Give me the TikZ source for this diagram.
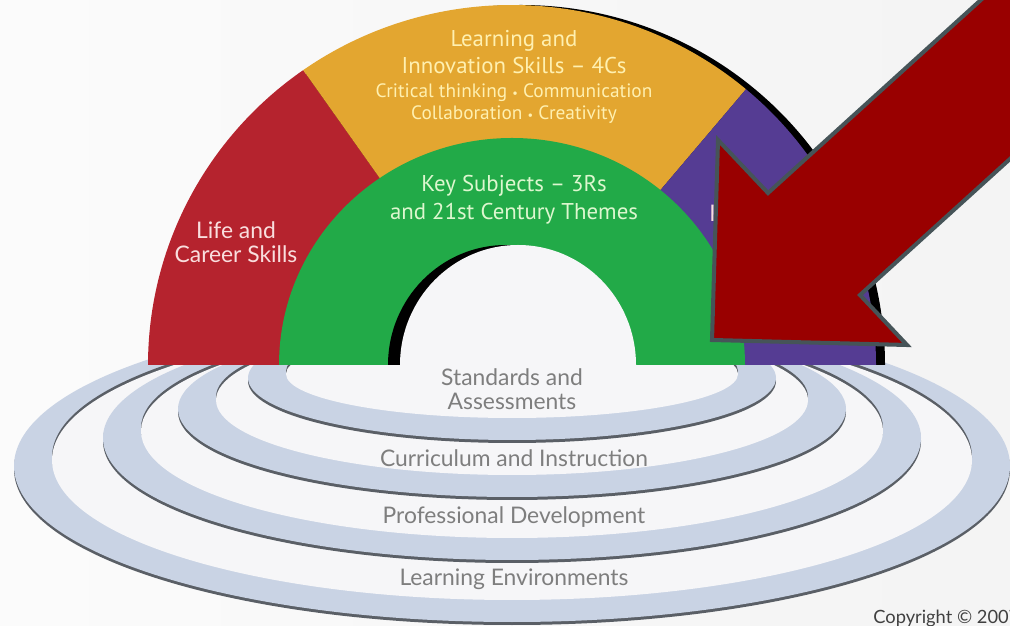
\documentclass[tikz,border=0pt]{standalone}
\usepackage{fontspec}
\setmainfont{PT Sans}
\newfontfamily\ringfont{Lato}
\usepackage{tikz}
\usetikzlibrary{calc}
\definecolor{lifered}{HTML}{B5232E}
\definecolor{learnorange}{HTML}{E3A630}
\definecolor{keygreen}{HTML}{22AA48}
\definecolor{techpurple}{HTML}{553C93}
\definecolor{ringblue}{HTML}{C9D3E4}
\definecolor{ringedge}{HTML}{5A5F66}
\definecolor{ringwhite}{HTML}{F6F6F8}
\definecolor{arrowred}{HTML}{990000}
\definecolor{arrowedge}{HTML}{465458}
\definecolor{txtorange}{HTML}{FFF0B0}
\definecolor{txtgreen}{HTML}{DDF7CF}
\definecolor{txtred}{HTML}{F9DEDE}
\definecolor{txtring}{HTML}{7E7E7E}
\tikzstyle{band}      = [fill=ringblue]
\tikzstyle{edge}      = [fill=ringedge]
\tikzstyle{inside}    = [fill=ringwhite]
\tikzstyle{archlabel} = [align=center, inner sep=0pt]
\tikzstyle{ringlabel} = [align=center, inner sep=0pt, text=txtring, font=\ringfont\fontsize{13}{13.6}\selectfont]
\tikzstyle{bigarrow}  = [fill=arrowred, draw=arrowedge, line width=2.3pt, line join=miter]

\begin{document}
\begin{tikzpicture}[x=0.02cm, y=0.02cm]
        \useasboundingbox (0,0) rectangle (1010,625);
        \clip (0,0) rectangle (1010,625);
        \shade[left color=gray!3, right color=gray!9] (0,0) rectangle (1010,625);

        \fill[edge]   (512,156) ellipse [x radius=498, y radius=156];
        \fill[band]   (512,159) ellipse [x radius=498, y radius=156];
        \fill[edge]   (512,168) ellipse [x radius=460, y radius=140];
        \fill[inside] (512,165) ellipse [x radius=460, y radius=140];

        \fill[edge]   (512,184) ellipse [x radius=409, y radius=122];
        \fill[band]   (512,187) ellipse [x radius=409, y radius=122];
        \fill[edge]   (512,197) ellipse [x radius=371, y radius=107];
        \fill[inside] (512,194) ellipse [x radius=371, y radius=107];

        \fill[edge]   (512,213) ellipse [x radius=334, y radius=88];
        \fill[band]   (512,216) ellipse [x radius=334, y radius=88];
        \fill[edge]   (512,228) ellipse [x radius=296, y radius=75];
        \fill[inside] (512,225) ellipse [x radius=296, y radius=75];

        \fill[edge]   (512,244) ellipse [x radius=264, y radius=62];
        \fill[band]   (512,247) ellipse [x radius=264, y radius=62];
        \fill[edge]   (512,254) ellipse [x radius=226, y radius=44];
        \fill[inside] (512,251) ellipse [x radius=226, y radius=44];

        \fill[black] (157,260) arc[start angle=180, end angle=0, x radius=364, y radius=360] -- cycle;
        \fill[lifered] (512,260) -- (148,260) arc[start angle=180, end angle=125, x radius=364, y radius=360] -- cycle;
        \fill[learnorange] (512,260) -- ++(125:364 and 360) arc[start angle=125, end angle=50, x radius=364, y radius=360] -- cycle;
        \fill[techpurple] (512,260) -- ++(50:364 and 360) arc[start angle=50, end angle=0, x radius=364, y radius=360] -- cycle;
        \fill[keygreen] (279,260) arc[start angle=180, end angle=0, x radius=233, y radius=227] -- cycle;
        \fill[black] (388,260) arc[start angle=180, end angle=0, x radius=118, y radius=120] -- cycle;
        \fill[inside] (400,260) arc[start angle=180, end angle=0, x radius=118, y radius=120] -- cycle;

        \node[archlabel, text=txtorange, font=\fontsize{13}{15.5}\selectfont] (learn) at (514,573) {Learning and\\Innovation Skills -- 4Cs};
        \node[archlabel, text=txtorange, font=\fontsize{11}{12.5}\selectfont] (crit) at (514,521) {Critical thinking {\scriptsize\textbullet} Communication\\Collaboration {\scriptsize\textbullet} Creativity};
        \node[archlabel, text=txtgreen, font=\fontsize{13}{16}\selectfont] (key) at (514,425) {Key Subjects -- 3Rs\\and 21st Century Themes};
        \node[archlabel, text=txtred, font=\ringfont\fontsize{13}{13.6}\selectfont] (life) at (236,383) {Life and\\Career Skills};
        \node[archlabel, text=txtred, font=\ringfont\fontsize{13}{13.6}\selectfont, anchor=west] (info) at (709,412) {Information};

        \node[ringlabel] (stand) at (512,236) {Standards and\\Assessments};
        \node[ringlabel] (curric) at (514,167) {Curriculum and Instruction};
        \node[ringlabel] (prof) at (514,108) {Professional Development};
        \node[ringlabel] (env) at (514,46) {Learning Environments};
        \node[inner sep=0pt, anchor=west, text=black!75, font=\ringfont\fontsize{10.4}{11}\selectfont] (copy) at (873,7) {Copyright \textcopyright\ 2007};

        \draw[bigarrow] (712,285) -- (718,485) -- (768,432) -- (1101,734) -- (1193,632) -- (860,330) -- (907,280) -- cycle;
\end{tikzpicture}
\end{document}
